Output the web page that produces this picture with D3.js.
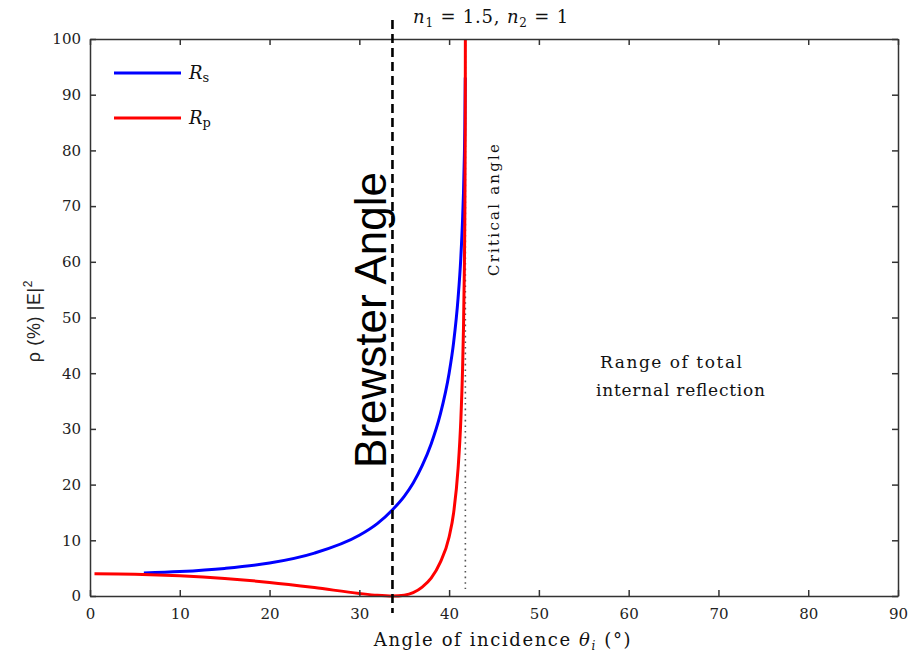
<!DOCTYPE html>
<html>
<head>
<meta charset="utf-8">
<script src="https://cdn.jsdelivr.net/npm/d3@7"></script>
<style>
  html, body { margin: 0; padding: 0; background: #fff; }
  svg { display: block; }
  .tick text { font-family: "DejaVu Serif", serif; font-size: 15px; fill: #222; }
</style>
</head>
<body>
<svg id="chart" width="908" height="656"></svg>
<script>
// Reflectance (%) for internal reflection, n1 = 1.5 to n2 = 1
const anglesS = [6, 10, 15, 20, 25, 30, 32, 33.7, 35, 36, 37, 38, 39, 40, 40.5, 41, 41.3, 41.5, 41.6, 41.7, 41.75, 41.8];
const valuesS = [4.13, 4.39, 4.95, 5.91, 7.7, 10.9, 13.0, 15.5, 17.9, 20.3, 23.4, 27.3, 32.5, 40.0, 45.5, 53.5, 60.6, 67.6, 72.3, 79.1, 84.1, 93.1];

const anglesP = [0.5, 5, 10, 15, 20, 25, 30, 32, 33.7, 35, 36, 37, 38, 39, 40, 40.5, 41, 41.3, 41.5, 41.6, 41.7, 41.75, 41.8, 41.81];
const valuesP = [4.0, 3.91, 3.63, 3.15, 2.44, 1.51, 0.46, 0.13, 0.0, 0.15, 0.6, 1.6, 3.2, 6.0, 10.6, 14.9, 22.9, 31.4, 40.8, 48.0, 58.9, 67.6, 85.1, 100];

const brewsterAngle = 33.69;
const criticalAngle = 41.81;

const xTicks = [0, 10, 20, 30, 40, 50, 60, 70, 80, 90];
const yTicks = [0, 10, 20, 30, 40, 50, 60, 70, 80, 90, 100];

const svg = d3.select("#chart");
const plotLeft = 90, plotRight = 898, plotTop = 39, plotBottom = 596;

const x = d3.scaleLinear().domain([0, 90]).range([plotLeft, plotRight]);
const y = d3.scaleLinear().domain([0, 100]).range([plotBottom, plotTop]);

const axisColor = "#333";
const serif = "DejaVu Serif, serif";

// curves
const line = d3.line().x(d => x(d[0])).y(d => y(d[1])).curve(d3.curveMonotoneX);
const seriesS = anglesS.map((a, i) => [a, valuesS[i]]);
const seriesP = anglesP.map((a, i) => [a, valuesP[i]]);

// critical angle (dotted)
svg.append("line")
  .attr("x1", x(criticalAngle)).attr("x2", x(criticalAngle))
  .attr("y1", y(100)).attr("y2", plotBottom - 7)
  .attr("stroke", "#555").attr("stroke-width", 1.6)
  .attr("stroke-dasharray", "1.6,4");

svg.append("path").datum(seriesS)
  .attr("d", line).attr("fill", "none")
  .attr("stroke", "#0000ff").attr("stroke-width", 3);

svg.append("path").datum(seriesP)
  .attr("d", line).attr("fill", "none")
  .attr("stroke", "#ff0000").attr("stroke-width", 3);

// axes (box with inward ticks)
const gB = svg.append("g").attr("transform", `translate(0,${plotBottom})`)
  .call(d3.axisBottom(x).tickValues(xTicks).tickSizeInner(-6).tickSizeOuter(0).tickPadding(12));
const gT = svg.append("g").attr("transform", `translate(0,${plotTop})`)
  .call(d3.axisTop(x).tickValues(xTicks).tickSizeInner(-6).tickSizeOuter(0).tickFormat(""));
const gL = svg.append("g").attr("transform", `translate(${plotLeft},0)`)
  .call(d3.axisLeft(y).tickValues(yTicks).tickSizeInner(-6).tickSizeOuter(0).tickPadding(9));
const gR = svg.append("g").attr("transform", `translate(${plotRight},0)`)
  .call(d3.axisRight(y).tickValues(yTicks).tickSizeInner(-6).tickSizeOuter(0).tickFormat(""));
[gB, gT, gL, gR].forEach(g => {
  g.select(".domain").attr("stroke", axisColor).attr("stroke-width", 1.5);
  g.selectAll(".tick line").attr("stroke", axisColor).attr("stroke-width", 1.5);
});

// Brewster angle (dashed)
svg.append("line")
  .attr("x1", x(brewsterAngle)).attr("x2", x(brewsterAngle))
  .attr("y1", 20).attr("y2", 613)
  .attr("stroke", "#000").attr("stroke-width", 2.6)
  .attr("stroke-dasharray", "9,5");

svg.append("text")
  .attr("transform", `translate(386,320) rotate(-90)`)
  .attr("text-anchor", "middle")
  .attr("font-family", "Liberation Sans, Arial, sans-serif")
  .attr("font-size", 44)
  .attr("fill", "#000")
  .text("Brewster Angle");

svg.append("text")
  .attr("transform", `translate(499,210) rotate(-90)`)
  .attr("text-anchor", "middle")
  .attr("font-family", serif)
  .attr("font-size", 15)
  .attr("textLength", 132).attr("lengthAdjust", "spacing")
  .attr("fill", "#111")
  .text("Critical angle");

svg.append("text")
  .attr("x", 600).attr("y", 368)
  .attr("font-family", serif).attr("font-size", 17).attr("fill", "#111")
  .attr("textLength", 142).attr("lengthAdjust", "spacing")
  .text("Range of total");
svg.append("text")
  .attr("x", 596).attr("y", 396)
  .attr("font-family", serif).attr("font-size", 17).attr("fill", "#111")
  .attr("textLength", 169).attr("lengthAdjust", "spacing")
  .text("internal reflection");

// title
const title = svg.append("text")
  .attr("x", 491).attr("y", 23)
  .attr("text-anchor", "middle")
  .attr("letter-spacing", 0.8)
  .attr("font-family", serif).attr("font-size", 18).attr("fill", "#111");
title.append("tspan").attr("font-style", "italic").text("n");
title.append("tspan").attr("font-size", 12).attr("dy", 4).text("1");
title.append("tspan").attr("dy", -4).text(" = 1.5, ");
title.append("tspan").attr("font-style", "italic").text("n");
title.append("tspan").attr("font-size", 12).attr("dy", 4).text("2");
title.append("tspan").attr("dy", -4).text(" = 1");

// axis labels
const xl = svg.append("text")
  .attr("x", 503).attr("y", 646)
  .attr("text-anchor", "middle")
  .attr("letter-spacing", 1.6)
  .attr("font-family", serif).attr("font-size", 18).attr("fill", "#111");
xl.append("tspan").text("Angle of incidence ");
xl.append("tspan").attr("font-style", "italic").text("θ");
xl.append("tspan").attr("font-style", "italic").attr("font-size", 12).attr("dy", 4).text("i");
xl.append("tspan").attr("dy", -4).text(" (°)");

const yl = svg.append("text")
  .attr("transform", "translate(40,321) rotate(-90)")
  .attr("text-anchor", "middle")
  .attr("letter-spacing", 0.6)
  .attr("font-family", "Liberation Sans, Arial, sans-serif").attr("font-size", 18).attr("fill", "#222");
yl.append("tspan").text("ρ (%) |E|");
yl.append("tspan").attr("font-size", 12).attr("dy", -8).text("2");

// legend
const legend = [
  { color: "#0000ff", sub: "s", yy: 73 },
  { color: "#ff0000", sub: "p", yy: 118 }
];
legend.forEach(d => {
  svg.append("line")
    .attr("x1", 114).attr("x2", 181).attr("y1", d.yy).attr("y2", d.yy)
    .attr("stroke", d.color).attr("stroke-width", 3);
  const t = svg.append("text")
    .attr("x", 189).attr("y", d.yy + 6)
    .attr("font-family", serif).attr("font-size", 18).attr("fill", "#111");
  t.append("tspan").attr("font-style", "italic").text("R");
  t.append("tspan").attr("font-size", 13).attr("dy", 3).text(d.sub);
});
</script>
</body>
</html>
